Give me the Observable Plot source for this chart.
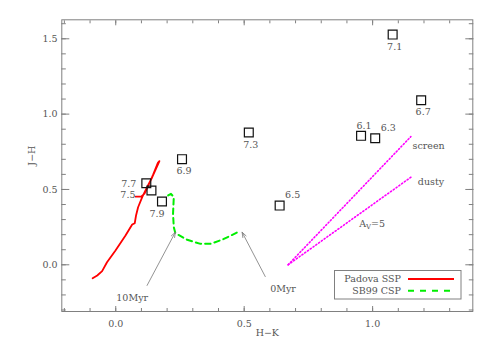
<!DOCTYPE html>
<html><head><meta charset="utf-8">
<script src="https://cdn.jsdelivr.net/npm/d3@7"></script>
<script src="https://cdn.jsdelivr.net/npm/@observablehq/plot@0.6"></script>
<style>body{margin:0;background:#fff} #chart{width:491px;height:350px}</style>
</head><body><div id="chart"></div>
<script>
// Observed clusters (log age labels)
const ages  = ["7.1","6.7","6.1","6.3","7.3","6.9","6.5","7.7","7.5","7.9"];
const hkObs = [1.078,1.189,0.955,1.010,0.518,0.258,0.638,0.119,0.139,0.180];
const jhObs = [1.528,1.092,0.856,0.840,0.878,0.701,0.393,0.541,0.493,0.420];

// Padova SSP track
const hkSSP = [-0.090,-0.072,-0.053,-0.034,-0.001,0.038,0.064,0.074,0.079,0.087,0.103,0.122,0.142,0.170,0.164,0.146,0.128,0.112,0.100,0.078];
const jhSSP = [-0.090,-0.071,-0.042,0.017,0.095,0.194,0.267,0.276,0.327,0.382,0.449,0.515,0.581,0.688,0.676,0.600,0.530,0.472,0.454,0.452];

// SB99 CSP track
const hkCSP = [0.204,0.215,0.226,0.223,0.226,0.232,0.278,0.330,0.368,0.414,0.483];
const jhCSP = [0.460,0.471,0.449,0.338,0.250,0.210,0.166,0.139,0.139,0.166,0.223];

// Reddening vectors (A_V = 5)
const redName = ["screen","screen","dusty","dusty"];
const redHK   = [0.671,1.149,0.671,1.149];
const redJH   = [0.000,0.851,0.000,0.581];

// Annotation texts
const noteText = ["screen","dusty","AV=5","10Myr","0Myr"];
const noteHK   = [1.218,1.227,0.998,0.064,0.651];
const noteJH   = [0.787,0.548,0.272,-0.218,-0.159];

// Arrows
const arrowHK1 = [0.122,0.582];
const arrowJH1 = [-0.137,-0.078];
const arrowHK2 = [0.232,0.492];
const arrowJH2 = [0.216,0.216];

// Ticks
const xMajor = [0.0,0.5,1.0];
const xMinor = [-0.2,-0.1,0.0,0.1,0.2,0.3,0.4,0.5,0.6,0.7,0.8,0.9,1.0,1.1,1.2,1.3];
const yMajor = [0.0,0.5,1.0,1.5];
const yMinor = [-0.3,-0.2,-0.1,0.0,0.1,0.2,0.3,0.4,0.5,0.6,0.7,0.8,0.9,1.0,1.1,1.2,1.3,1.4,1.5,1.6];

const legendNames = ["Padova SSP","SB99 CSP"];

const idx = ages.map((_, i) => i);
const pick = (names) => idx.filter(i => names.includes(ages[i]));
const axisCol = "#808080";
const textCol = "#555";

const plot = Plot.plot({
  width: 491, height: 350,
  marginLeft: 61.3, marginRight: 18.7, marginTop: 19.3, marginBottom: 39,
  x: {domain: [-0.21, 1.39]},
  y: {domain: [-0.31, 1.626]},
  style: {fontFamily: "DejaVu Serif", fontSize: "9.5px", color: textCol, background: "#fff"},
  marks: [
    Plot.frame({stroke: axisCol}),
    // bottom
    Plot.axisX(xMinor, {anchor: "bottom", tickSize: -3, fill: "none", stroke: axisCol, label: null}),
    Plot.axisX(xMajor, {anchor: "bottom", tickSize: -5, tickPadding: 13.5, stroke: axisCol, fill: textCol, label: null, tickFormat: d3.format(".1f")}),
    // top
    Plot.axisX(xMinor, {anchor: "top", tickSize: -3, fill: "none", stroke: axisCol, label: null}),
    Plot.axisX(xMajor, {anchor: "top", tickSize: -5, fill: "none", stroke: axisCol, label: null}),
    // left
    Plot.axisY(yMinor, {anchor: "left", tickSize: -4.5, fill: "none", stroke: axisCol, label: null}),
    Plot.axisY(yMajor, {anchor: "left", tickSize: -8, tickPadding: 12.3, stroke: axisCol, fill: textCol, label: null, tickFormat: d3.format(".1f")}),
    // right
    Plot.axisY(yMinor, {anchor: "right", tickSize: -4.5, fill: "none", stroke: axisCol, label: null}),
    Plot.axisY(yMajor, {anchor: "right", tickSize: -8, fill: "none", stroke: axisCol, label: null}),
    // axis titles
    Plot.text(["H−K"], {frameAnchor: "bottom", dy: 24, fill: textCol}),
    Plot.text(["J−H"], {frameAnchor: "left", dx: -30, rotate: -90, fill: textCol}),
    // reddening vectors
    Plot.line(redHK.map((_, i) => i), {x: i => redHK[i], y: i => redJH[i], z: i => redName[i], stroke: "#ff00ff", strokeWidth: 1.6, strokeDasharray: "1.2,2.2"}),
    // SSP track
    Plot.line(hkSSP.map((_, i) => i), {x: i => hkSSP[i], y: i => jhSSP[i], stroke: "#ff0000", strokeWidth: 1.8}),
    // CSP track
    Plot.line(hkCSP.map((_, i) => i), {x: i => hkCSP[i], y: i => jhCSP[i], stroke: "#00ee00", strokeWidth: 2, strokeDasharray: "5.5,4"}),
    // arrows
    Plot.arrow(arrowHK1.map((_, i) => i), {x1: i => arrowHK1[i], y1: i => arrowJH1[i], x2: i => arrowHK2[i], y2: i => arrowJH2[i], stroke: "#777", strokeWidth: 0.8, headLength: 10, headAngle: 40}),
    // observed squares
    Plot.dot(idx, {x: i => hkObs[i], y: i => jhObs[i], symbol: "square", r: 5, stroke: "#111", strokeWidth: 1.2, fill: "none"}),
    // labels below
    Plot.text(pick(["7.1","6.7","7.3","6.9"]), {x: i => hkObs[i], y: i => jhObs[i], text: i => ages[i], dx: 2, dy: 12, fill: textCol}),
    Plot.text(pick(["7.9"]), {x: i => hkObs[i], y: i => jhObs[i], text: i => ages[i], dx: -5, dy: 12, fill: textCol}),
    // labels above
    Plot.text(pick(["6.1"]), {x: i => hkObs[i], y: i => jhObs[i], text: i => ages[i], dx: 3, dy: -10, fill: textCol}),
    Plot.text(pick(["6.3","6.5"]), {x: i => hkObs[i], y: i => jhObs[i], text: i => ages[i], dx: 13, dy: -10.5, fill: textCol}),
    // labels left
    Plot.text(pick(["7.7"]), {x: i => hkObs[i], y: i => jhObs[i], text: i => ages[i], dx: -10, dy: 0.5, textAnchor: "end", fill: textCol}),
    Plot.text(pick(["7.5"]), {x: i => hkObs[i], y: i => jhObs[i], text: i => ages[i], dx: -16, dy: 4, textAnchor: "end", fill: textCol}),
    // annotations
    Plot.text(noteText.map((_, i) => i), {x: i => noteHK[i], y: i => noteJH[i], text: i => noteText[i], fill: textCol})
  ]
});

// subscript in A_V=5
d3.select(plot).selectAll("text").filter(function() { return this.textContent === "AV=5"; })
  .each(function() {
    const t = d3.select(this);
    t.text(null);
    t.append("tspan").text("A");
    t.append("tspan").attr("dy", "2.5").attr("font-size", "7px").text("V");
    t.append("tspan").attr("dy", "-2.5").text("=5");
  });

// legend box (inside plot, lower right)
const svg = d3.select(plot);
const lg = svg.append("g").attr("font-family", "DejaVu Serif").attr("font-size", "9.5px");
lg.append("rect").attr("x", 334.5).attr("y", 270.5).attr("width", 126.5).attr("height", 28.5)
  .attr("fill", "#fff").attr("stroke", axisCol);
const legStyles = [{stroke: "#ff0000", dash: null, w: 1.8}, {stroke: "#00ee00", dash: "6,6", w: 2}];
legendNames.forEach((name, i) => {
  const yy = 279 + i * 11.7;
  lg.append("text").attr("x", 401).attr("y", yy).attr("dy", "0.32em").attr("text-anchor", "end").attr("fill", textCol).text(name);
  lg.append("line").attr("x1", 408).attr("x2", 454).attr("y1", yy).attr("y2", yy)
    .attr("stroke", legStyles[i].stroke).attr("stroke-width", legStyles[i].w)
    .attr("stroke-dasharray", legStyles[i].dash);
});

document.getElementById("chart").appendChild(plot);
</script>
</body></html>
